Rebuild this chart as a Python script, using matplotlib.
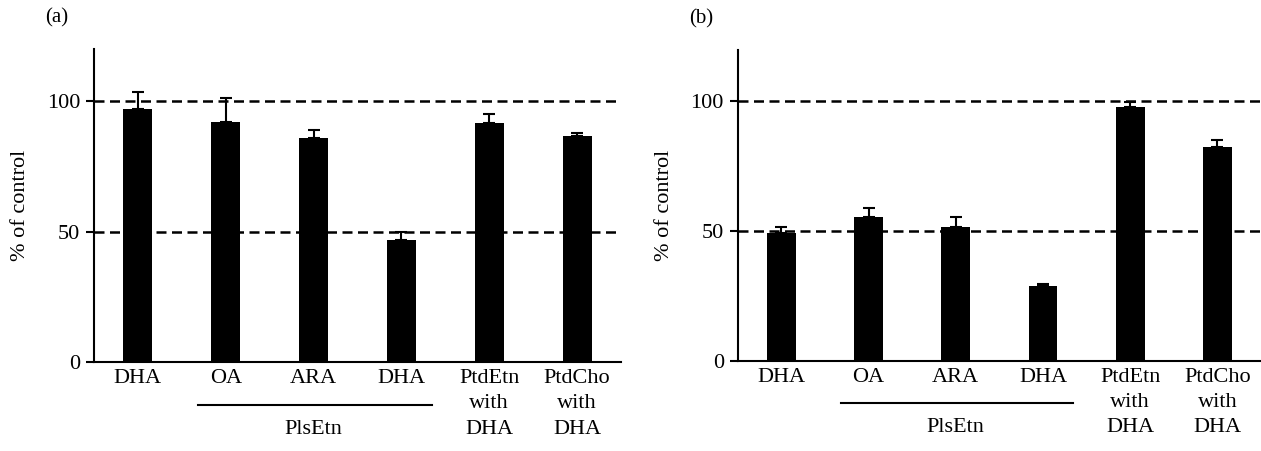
import matplotlib.pyplot as plt
from matplotlib.transforms import blended_transform_factory

plt.rcParams['font.family'] = ['Liberation Serif', 'DejaVu Serif']

categories = ["DHA", "OA", "ARA", "DHA", "PtdEtn\nwith\nDHA", "PtdCho\nwith\nDHA"]
values_a = [97.2, 91.9, 86.1, 46.8, 91.5, 86.6]
errors_a = [6.2, 9.5, 2.8, 3.0, 3.7, 1.2]
values_b = [49.4, 55.6, 51.6, 28.8, 97.8, 82.6]
errors_b = [2.3, 3.5, 4.0, 0.8, 2.0, 2.7]
group_label = "PlsEtn"
y_ticks = [0, 50, 100]

fig = plt.figure(figsize=(12.61, 4.51), dpi=100)
ax_a = fig.add_axes([0.0745, 0.197, 0.418, 0.694])
ax_b = fig.add_axes([0.585, 0.2, 0.415, 0.69])

for ax, vals, errs, tag in [(ax_a, values_a, errors_a, "(a)"), (ax_b, values_b, errors_b, "(b)")]:
    x = list(range(len(categories)))
    for yv in (50, 100):
        ax.axhline(yv, color="black", linestyle=(0, (4, 2.2)), linewidth=1.8, zorder=1)
    ax.bar(x, vals, width=0.33, color="black", zorder=2)
    ax.errorbar(x, vals, yerr=[[0] * len(errs), errs], fmt="none", ecolor="black",
                elinewidth=1.5, capsize=4, capthick=1.5, zorder=3)
    ax.set_xlim(-0.5, 5.5)
    ax.set_ylim(0, 120)
    ax.set_yticks(y_ticks)
    ax.set_xticks(x)
    ax.set_xticklabels(categories, fontsize=16, linespacing=1.45)
    ax.tick_params(axis="x", length=0, pad=5)
    ax.tick_params(axis="y", direction="out", length=6, width=1.5, labelsize=16, pad=4)
    for s in ("top", "right"):
        ax.spines[s].set_visible(False)
    for s in ("left", "bottom"):
        ax.spines[s].set_linewidth(1.5)
    ax.set_ylabel("% of control", fontsize=16, labelpad=12)
    ax.text(-0.07, 1.10, tag, transform=ax.transAxes, fontsize=15, ha="center", va="center")

    trans = blended_transform_factory(ax.transData, ax.transAxes)
    ax.plot([0.68, 3.35], [-0.137, -0.137], color="black", linewidth=1.5,
            transform=trans, clip_on=False)
    ax.text(2.0, -0.215, group_label, transform=trans, fontsize=16,
            ha="center", va="center")

fig.savefig("out.png", dpi=100)
